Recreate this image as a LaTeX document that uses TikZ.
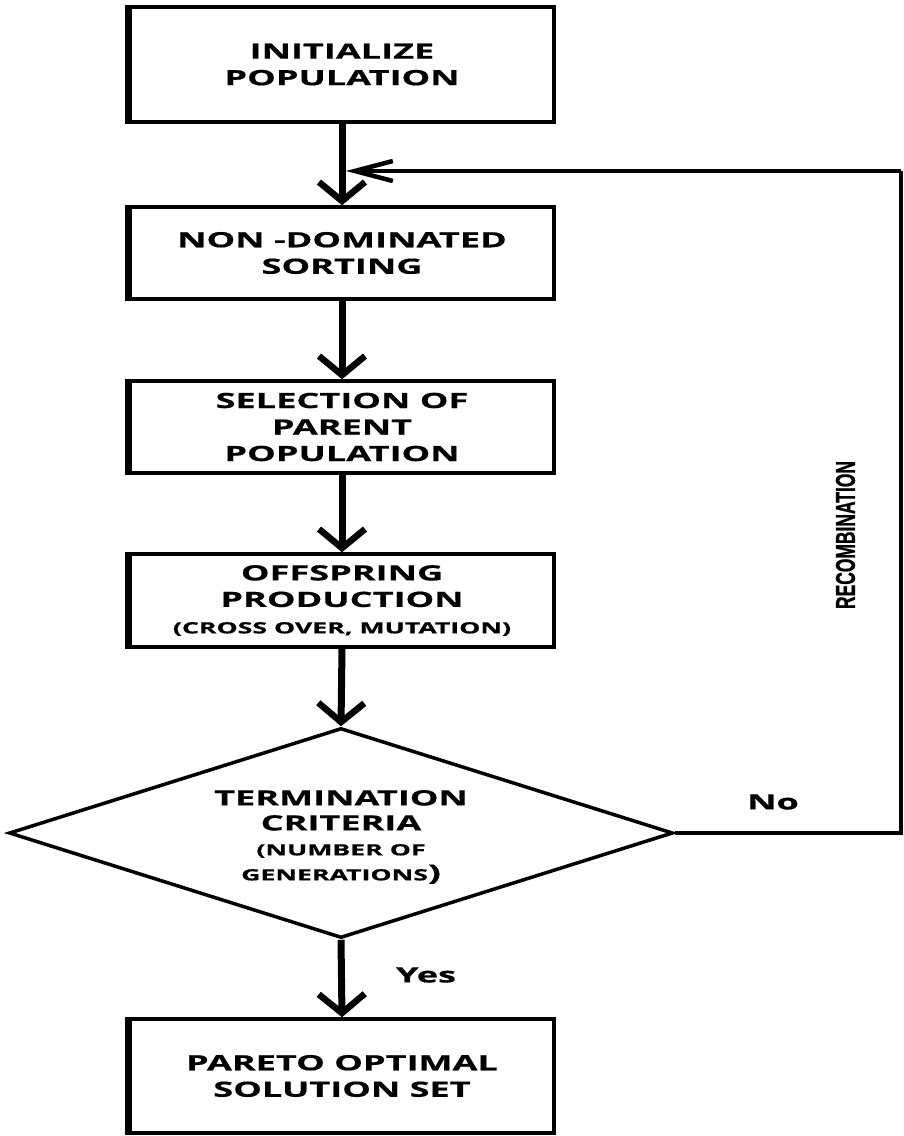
\documentclass[tikz,border=0pt]{standalone}
\usepackage{fontspec}
\newfontfamily\boxfont[FakeStretch=1.72,FakeBold=0.6]{Open Sans}
\newfontfamily\recfont[FakeBold=1.2]{Liberation Sans}
\usetikzlibrary{arrows.meta,shapes.geometric}
\tikzset{
  stepbox/.style={draw, line width=3.5pt, minimum width=424pt, inner sep=0pt, align=center,
    font=\boxfont\bfseries\fontsize{21}{26.5}\selectfont},
  flow/.style={line width=7pt, -{Straight Barb[length=19pt, width=46pt, line width=6.5pt]}},
  loopline/.style={line width=4pt},
  loopflow/.style={line width=4pt, -{Straight Barb[length=38pt, width=20pt, line width=4.5pt]}},
  lbl/.style={font=\boxfont\bfseries\fontsize{21}{25}\selectfont, inner sep=0pt},
  leftedge/.style={line width=6pt},
}
\begin{document}
\begin{tikzpicture}[x=1pt,y=-1pt]
\useasboundingbox (0,0) rectangle (903,1136);
\node[stepbox, minimum height=115pt] (b1) at (342,64.5) {INITIALIZE\\POPULATION};
\node[stepbox, minimum height=92pt] (b2) at (342,253) {NON -DOMINATED\\SORTING};
\node[stepbox, minimum height=92pt] (b3) at (342,427) {SELECTION OF\\PARENT\\POPULATION};
\node[stepbox, minimum height=93pt] (b4) at (342,600.5) {OFFSPRING\\PRODUCTION\\{\fontsize{15.5}{18}\selectfont (CROSS OVER, MUTATION)}};
\node[stepbox, minimum height=114pt] (b5) at (342,1076) {PARETO OPTIMAL\\SOLUTION SET};
\foreach \b in {b1,b2,b3,b4,b5}{\draw[leftedge] (\b.north west) -- (\b.south west);}
\node[diamond, draw, line width=3.5pt, minimum width=664pt, minimum height=210pt, inner sep=0pt] (dec) at (341,833) {};
\node[lbl, align=center] (dect) at (341,837) {TERMINATION\\CRITERIA\\{\fontsize{15.5}{18}\selectfont (NUMBER OF}\\{\fontsize{15.5}{18}\selectfont GENERATIONS}{\fontsize{22}{22}\selectfont )}};
\draw[flow] (b1.south) -- (b2.north);
\draw[flow] (b2.south) -- (b3.north);
\draw[flow] (b3.south) -- (b4.north);
\draw[flow] (b4.south) -- (dec.north);
\draw[flow] (dec.south) -- (b5.north);
\coordinate (cr) at (901,833);
\coordinate (ctop) at (901,171);
\coordinate (fbend) at (346,171);
\draw[loopline] (dec.east) -- (cr) -- (ctop);
\draw[loopflow] (ctop) -- (fbend);
\node[lbl] (no) at (773,802) {No};
\node[lbl] (yes) at (426,975) {Yes};
\node[rotate=90, inner sep=0pt] (rec) at (845.5,535) {\resizebox{148pt}{19pt}{\recfont\bfseries RECOMBINATION}};
\end{tikzpicture}
\end{document}
